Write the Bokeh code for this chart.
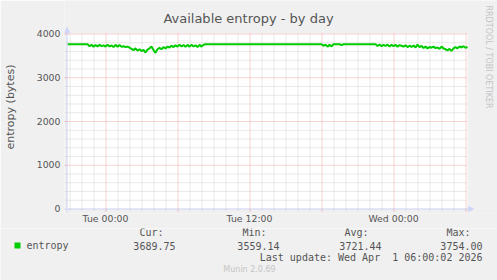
import math
from bokeh.plotting import figure
from bokeh.layouts import column
from bokeh.models import Range1d, FixedTicker, Arrow, NormalHead
from bokeh.core.properties import value
from bokeh.embed import file_html
from bokeh.resources import INLINE

# ---------------- data ----------------
TITLE = "Available entropy - by day"
Y_LABEL = "entropy (bytes)"
SERIES = "entropy"
x_tick_minutes = [0, 720, 1440]                 # minutes since Tue 00:00
x_tick_labels = ["Tue 00:00", "Tue 12:00", "Wed 00:00"]
y_ticks = [0, 1000, 2000, 3000, 4000]
y_minor_ticks = [200, 400, 600, 800, 1200, 1400, 1600, 1800, 2200, 2400, 2600, 2800,
                 3200, 3400, 3600, 3800]
legend_headers = ["Cur:", "Min:", "Avg:", "Max:"]
legend_values = ["3689.75", "3559.14", "3721.44", "3754.00"]
last_update = "Last update: Wed Apr  1 06:00:02 2026"
watermark = "RRDTOOL / TOBI OETIKER"
footer = "Munin 2.0.69"

window_start, window_end = -190, 1810     # Mon 20:50 .. Wed 06:10 (minutes since Tue 00:00)
step_minutes = 10
entropy = [
    # Mon 20:50 - 22:20 flat
    3754, 3754, 3754, 3754, 3754, 3754, 3754, 3754, 3754, 3754,
    # Mon 22:30 - Tue 08:20 noisy
    3754, 3710, 3740, 3700, 3735, 3705, 3740, 3710, 3730, 3700,
    3745, 3705, 3725, 3690, 3740, 3700, 3735, 3695, 3710, 3690,
    3700, 3675, 3650, 3620, 3660, 3610, 3640, 3600, 3625, 3565,
    3630, 3660, 3705, 3620, 3559, 3640, 3670, 3640, 3690, 3660,
    3700, 3680, 3720, 3690, 3730, 3700, 3745, 3705, 3735, 3695,
    3740, 3700, 3745, 3705, 3730, 3690, 3740, 3700, 3745, 3754,
    # Tue 08:30 - 18:00 flat
    3754, 3754, 3754, 3754, 3754, 3754, 3754, 3754, 3754, 3754,
    3754, 3754, 3754, 3754, 3754, 3754, 3754, 3754, 3754, 3754,
    3754, 3754, 3754, 3754, 3754, 3754, 3754, 3754, 3754, 3754,
    3754, 3754, 3754, 3754, 3754, 3754, 3754, 3754, 3754, 3754,
    3754, 3754, 3754, 3754, 3754, 3754, 3754, 3754, 3754, 3754,
    3754, 3754, 3754, 3754, 3754, 3754, 3754, 3754,
    # Tue 18:10 - 19:00 small dip
    3720, 3745, 3700, 3740, 3705, 3754,
    3754, 3754, 3754,
    3735,
    # Tue 19:10 - 22:20 flat
    3754, 3754, 3754, 3754, 3754, 3754, 3754, 3754,
    3754, 3754, 3754, 3754, 3754, 3754, 3754, 3754,
    # Tue 22:30 - Wed 06:10 noisy
    3754, 3715, 3745, 3710, 3740, 3715, 3745, 3705, 3740, 3710,
    3740, 3700, 3735, 3720, 3700, 3730, 3690, 3720, 3695, 3725,
    3680, 3745, 3690, 3715, 3670, 3700, 3660, 3690, 3675, 3700,
    3665, 3680, 3650, 3700, 3660, 3640, 3615, 3650, 3600, 3660,
    3690, 3660, 3705, 3680, 3710, 3675, 3690,
]
minutes = [window_start + step_minutes * i for i in range(len(entropy))]

# ---------------- style / layout ----------------
FONT = "DejaVu Sans"
MONO = "DejaVu Sans Mono"
TXT = "#555555"
AXIS = "#CFD6F8"
GREEN = "#00CC00"
MAJOR_GRID = "#F0A8A8"
MINOR_GRID = "#D2D2D2"
BG = "#F0F0F0"
Y_MAX = 4000

W, H_MAIN, H_LEG = 497, 228, 52
PL, PR, PT, PB = 67, 467, 33, 208       # plot area (pixels)
FL, FB = 64, 213                        # frame left / bottom (frame spans to right & top edge)
mpp = (window_end - window_start) / (PR - PL)   # minutes per pixel
vpp = Y_MAX / (PB - PT)                         # value per pixel
X0 = window_start - (PL - FL) * mpp
X1 = window_end + (W - PR) * mpp
Y0 = -(FB - PB) * vpp
Y1 = Y_MAX + PT * vpp

p = figure(width=W, height=H_MAIN, x_range=Range1d(X0, X1), y_range=Range1d(Y0, Y1),
           output_backend="svg", toolbar_location=None, title=None,
           min_border_left=FL, min_border_right=0, min_border_top=0,
           min_border_bottom=H_MAIN - FB)
p.background_fill_color = BG
p.border_fill_color = BG
p.outline_line_color = None
p.grid.visible = False
p.extra_x_ranges = {"px": Range1d(FL, W)}
p.extra_y_ranges = {"px": Range1d(FB, 0)}

# white canvas of the graph
p.quad(left=[window_start], right=[window_end], bottom=[0], top=[Y_MAX],
       fill_color="#FFFFFF", line_color=None)

# grid (shifted half a pixel for crisp dotted lines)
hx, hy = 0.5 * mpp, 0.5 * vpp
hours = list(range(-180, 1801, 60))
x_major = [m for m in hours if m % 360 == 0]
x_minor = [m for m in hours if m % 360 != 0]
y_major = y_ticks[1:]
p.segment(x0=[m + hx for m in x_minor], y0=[0] * len(x_minor),
          x1=[m + hx for m in x_minor], y1=[Y_MAX] * len(x_minor),
          line_color=MINOR_GRID, line_dash="1 1", line_width=1)
p.segment(x0=[window_start] * len(y_minor_ticks), y0=[v - hy for v in y_minor_ticks],
          x1=[window_end] * len(y_minor_ticks), y1=[v - hy for v in y_minor_ticks],
          line_color=MINOR_GRID, line_dash="1 1", line_width=1)
p.segment(x0=[m + hx for m in x_major], y0=[0] * len(x_major),
          x1=[m + hx for m in x_major], y1=[Y_MAX] * len(x_major),
          line_color=MAJOR_GRID, line_dash="1 1", line_width=1)
p.segment(x0=[window_start] * len(y_major), y0=[v - hy for v in y_major],
          x1=[window_end] * len(y_major), y1=[v - hy for v in y_major],
          line_color=MAJOR_GRID, line_dash="1 1", line_width=1)
# small tick marks outside the canvas
p.segment(x0=[m + hx for m in x_minor], y0=[0] * len(x_minor),
          x1=[m + hx for m in x_minor], y1=[-2 * vpp] * len(x_minor),
          line_color=MINOR_GRID, line_width=1)
p.segment(x0=[m + hx for m in x_major], y0=[0] * len(x_major),
          x1=[m + hx for m in x_major], y1=[-3 * vpp] * len(x_major),
          line_color=MAJOR_GRID, line_width=1)
p.segment(x0=[window_start - 2 * mpp] * len(y_minor_ticks), y0=[v - hy for v in y_minor_ticks],
          x1=[window_start] * len(y_minor_ticks), y1=[v - hy for v in y_minor_ticks],
          line_color=MINOR_GRID, line_width=1)
p.segment(x0=[window_start - 3 * mpp] * len(y_major), y0=[v - hy for v in y_major],
          x1=[window_start] * len(y_major), y1=[v - hy for v in y_major],
          line_color=MAJOR_GRID, line_width=1)

# data
p.line(minutes, entropy, line_color=GREEN, line_width=2)

# axes with arrows
p.add_layout(Arrow(x_start=PL - 4, y_start=PB + 0.5, x_end=PR + 6, y_end=PB + 0.5,
                   x_range_name="px", y_range_name="px", line_color=AXIS, line_width=1,
                   end=NormalHead(size=5, fill_color=AXIS, line_color=AXIS)))
p.add_layout(Arrow(x_start=PL - 0.5, y_start=PB + 4, x_end=PL - 0.5, y_end=PT - 6,
                   x_range_name="px", y_range_name="px", line_color=AXIS, line_width=1,
                   end=NormalHead(size=5, fill_color=AXIS, line_color=AXIS)))

# title and watermark
p.text(x=[248], y=[18.3], text=[TITLE], x_range_name="px", y_range_name="px",
       text_font=value(FONT), text_font_size="13px", text_color=TXT,
       text_align="center", text_baseline="alphabetic")
p.text(x=[488], y=[5], text=[watermark], x_range_name="px", y_range_name="px",
       angle=-math.pi / 2, text_font=value(FONT), text_font_size="8px",
       text_color="#C4C4C4", text_align="left", text_baseline="middle")

# axes (labels only)
xa = p.xaxis[0]
xa.ticker = FixedTicker(ticks=x_tick_minutes)
xa.major_label_overrides = dict(zip(x_tick_minutes, x_tick_labels))
xa.major_label_standoff = -1
ya = p.yaxis[0]
ya.ticker = FixedTicker(ticks=y_ticks)
ya.major_label_standoff = 4
ya.axis_label = Y_LABEL
ya.axis_label_standoff = 17
ya.axis_label_text_font = FONT
ya.axis_label_text_font_size = "11px"
ya.axis_label_text_font_style = "normal"
ya.axis_label_text_color = TXT
for ax in (xa, ya):
    ax.axis_line_color = None
    ax.major_tick_line_color = None
    ax.minor_tick_line_color = None
    ax.major_tick_out = 0
    ax.major_tick_in = 0
    ax.minor_tick_out = 0
    ax.minor_tick_in = 0
    ax.major_label_text_font = FONT
    ax.major_label_text_font_size = "9.33px"
    ax.major_label_text_color = TXT

# ---------------- legend / footer strip ----------------
TOP = H_MAIN
q = figure(width=W, height=H_LEG, x_range=Range1d(0, W), y_range=Range1d(TOP + H_LEG, TOP),
           output_backend="svg", toolbar_location=None, title=None,
           min_border_left=0, min_border_right=0, min_border_top=0, min_border_bottom=0)
q.background_fill_color = BG
q.border_fill_color = BG
q.outline_line_color = None
q.axis.visible = False
q.grid.visible = False
for fig in (p, q):
    try:
        fig.frame_align = False
    except Exception:
        pass

q.quad(left=[14], right=[20], top=[242], bottom=[248], fill_color=GREEN, line_color=None)
mono = dict(text_font=value(MONO), text_font_size="10px", text_color=TXT, text_baseline="middle")
q.text(x=[26], y=[245], text=[SERIES], text_align="left", **mono)
q.text(x=[163, 266, 368, 470], y=[232] * 4, text=legend_headers, text_align="right", **mono)
q.text(x=[175, 279, 381, 482], y=[245] * 4, text=legend_values, text_align="right", **mono)
# keep the double space visible in SVG text
q.text(x=[482], y=[256.7], text=[last_update.replace("  ", "\u00a0 ")], text_align="right", **mono)
q.text(x=[249], y=[269], text=[footer], text_align="center", text_baseline="middle",
       text_font=value(FONT), text_font_size="8px", text_color="#C4C4C4")

layout = column(p, q, spacing=0)
open("out.html", "w").write(file_html(layout, INLINE))
